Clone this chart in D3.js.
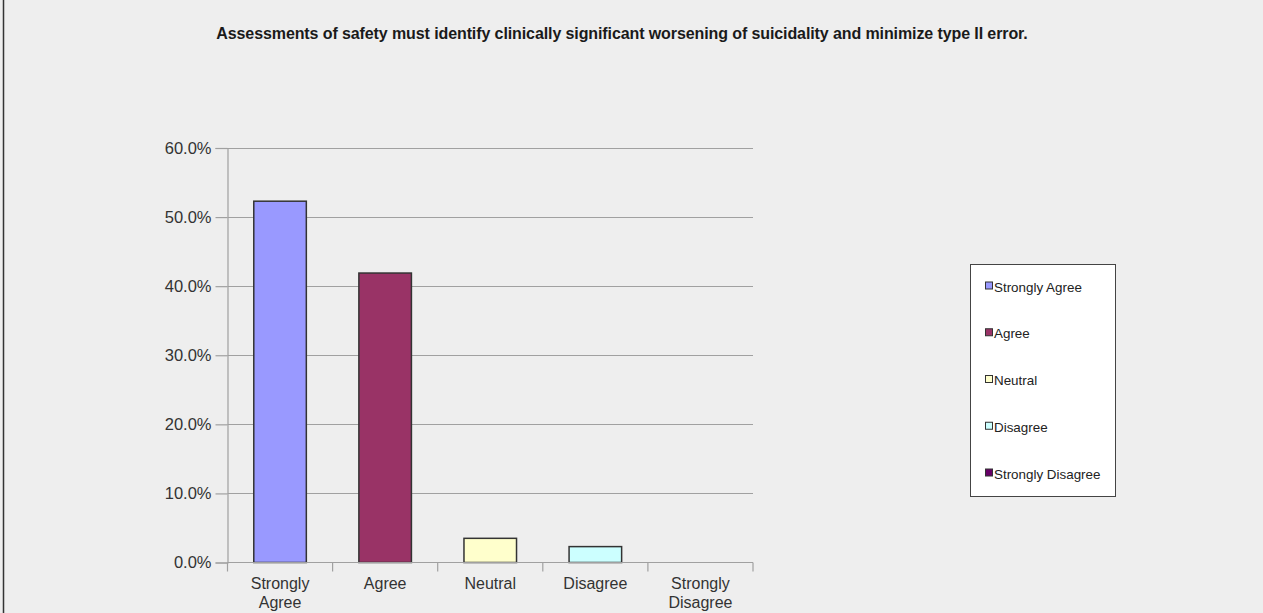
<!DOCTYPE html>
<html>
<head>
<meta charset="utf-8">
<script src="https://cdn.jsdelivr.net/npm/d3@7"></script>
<style>
  html, body { margin: 0; padding: 0; background: #eeeeee; }
  svg { display: block; }
</style>
</head>
<body>
<script>
// Survey responses for a single statement
const categories = ["Strongly Agree", "Agree", "Neutral", "Disagree", "Strongly Disagree"];
const categoryLines = [["Strongly", "Agree"], ["Agree"], ["Neutral"], ["Disagree"], ["Strongly", "Disagree"]];
const values = [0.523, 0.419, 0.035, 0.023, 0.0];
const colors = ["#9999ff", "#993366", "#ffffcc", "#ccffff", "#660066"];
const yTicks = [0, 0.1, 0.2, 0.3, 0.4, 0.5, 0.6];
const title = "Assessments of safety must identify clinically significant worsening of suicidality and minimize type II error.";

const W = 1263, H = 613;
const FONT = "Liberation Sans, Arial, sans-serif";
const svg = d3.select("body").append("svg").attr("width", W).attr("height", H);

svg.append("rect").attr("width", W).attr("height", H).attr("fill", "#eeeeee");
svg.append("line").attr("x1", 3.5).attr("x2", 3.5).attr("y1", 0).attr("y2", H)
  .attr("stroke", "#333").attr("stroke-width", 1.5);

svg.append("text").attr("x", 622).attr("y", 39).attr("text-anchor", "middle")
  .attr("font-family", FONT).attr("font-weight", "bold")
  .attr("font-size", 16).attr("letter-spacing", -0.1).attr("fill", "#1a1a1a")
  .text(title);

const plot = { left: 227.5, right: 753, top: 148, bottom: 562.5 };

const x = d3.scaleBand().domain(categories).range([plot.left, plot.right]).paddingInner(0.5).paddingOuter(0.25);
const xb = d3.scaleBand().domain(categories).range([plot.left, plot.right]);
const y = d3.scaleLinear().domain([0, 0.6]).range([plot.bottom, plot.top]);

// horizontal gridlines
svg.append("g").selectAll("line").data(yTicks.filter(d => d > 0)).join("line")
  .attr("x1", plot.left).attr("x2", plot.right)
  .attr("y1", d => Math.round(y(d)) + 0.5).attr("y2", d => Math.round(y(d)) + 0.5)
  .attr("stroke", "#a0a0a0").attr("stroke-width", 1.2);

// y axis
const yAxis = svg.append("g").attr("transform", `translate(${plot.left},0)`)
  .call(d3.axisLeft(y).tickValues(yTicks).tickFormat(d3.format(".1%")).tickSize(12).tickPadding(4));
yAxis.select(".domain").attr("stroke", "#a0a0a0").attr("stroke-width", 1.2);
yAxis.selectAll(".tick line").attr("stroke", "#a0a0a0").attr("stroke-width", 1.2);
yAxis.selectAll(".tick text").attr("font-family", FONT)
  .attr("font-size", 16.5).attr("fill", "#333");

// bars
svg.append("g").selectAll("rect").data(values).join("rect")
  .attr("x", (d, i) => x(categories[i]))
  .attr("width", x.bandwidth())
  .attr("y", d => y(d))
  .attr("height", d => plot.bottom - y(d))
  .attr("fill", (d, i) => colors[i])
  .attr("stroke", "#333").attr("stroke-width", 1.5)
  .attr("display", d => d > 0 ? null : "none");

// x axis
const xAxisG = svg.append("g").attr("transform", `translate(0,${plot.bottom})`);
xAxisG.append("line").attr("x1", plot.left).attr("x2", plot.right)
  .attr("stroke", "#a0a0a0").attr("stroke-width", 1.2);
const edges = categories.map(c => xb(c)).concat([plot.right]);
xAxisG.selectAll("line.tk").data(edges).join("line").attr("class", "tk")
  .attr("x1", d => d).attr("x2", d => d).attr("y1", 0).attr("y2", 9)
  .attr("stroke", "#a0a0a0").attr("stroke-width", 1.2);
const labels = xAxisG.selectAll("text").data(categoryLines).join("text")
  .attr("text-anchor", "middle")
  .attr("font-family", FONT).attr("font-size", 16).attr("fill", "#333")
  .attr("transform", (d, i) => `translate(${xb(categories[i]) + xb.bandwidth() / 2},0)`);
labels.selectAll("tspan").data(d => d).join("tspan")
  .attr("x", 0).attr("y", (d, j) => 26 + j * 19).text(d => d);

// legend
const lg = svg.append("g");
lg.append("rect").attr("x", 970.5).attr("y", 264.5).attr("width", 145).attr("height", 232)
  .attr("fill", "#ffffff").attr("stroke", "#444").attr("stroke-width", 1);
const items = lg.selectAll("g.item").data(categories).join("g").attr("class", "item")
  .attr("transform", (d, i) => `translate(985,${287 + i * 46.75})`);
items.append("rect").attr("x", 0.5).attr("y", -5).attr("width", 7).attr("height", 7)
  .attr("fill", (d, i) => colors[i]).attr("stroke", "#333").attr("stroke-width", 1);
items.append("text").attr("x", 9).attr("y", 4.5)
  .attr("font-family", FONT).attr("font-size", 13.4).attr("fill", "#222")
  .text(d => d);
</script>
</body>
</html>
